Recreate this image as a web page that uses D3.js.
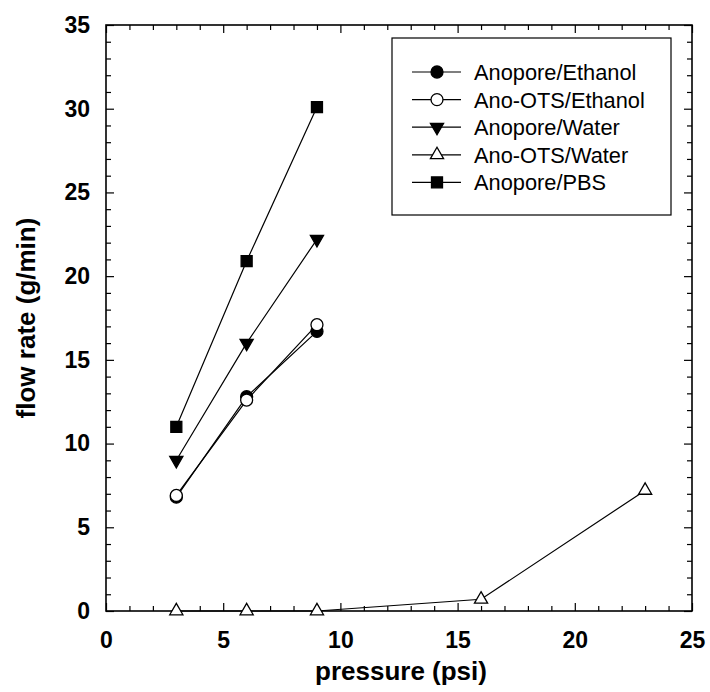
<!DOCTYPE html>
<html>
<head>
<meta charset="utf-8">
<script src="https://cdn.jsdelivr.net/npm/d3@7"></script>
<style>
  body { margin: 0; background: #fff; }
  svg { display: block; }
</style>
</head>
<body>
<svg id="chart" width="710" height="692"></svg>
<script>
// ---- data ----
const seriesNames = ["Anopore/Ethanol", "Ano-OTS/Ethanol", "Anopore/Water", "Ano-OTS/Water", "Anopore/PBS"];
const anoporeEthanolX = [3, 6, 9];
const anoporeEthanolY = [6.8, 12.8, 16.7];
const anoOtsEthanolX = [3, 6, 9];
const anoOtsEthanolY = [6.9, 12.6, 17.1];
const anoporeWaterX = [3, 6, 9];
const anoporeWaterY = [9.0, 16.0, 22.2];
const anoOtsWaterX = [3, 6, 9, 16, 23];
const anoOtsWaterY = [0, 0, 0, 0.7, 7.2];
const anoporePbsX = [3, 6, 9];
const anoporePbsY = [11.0, 20.9, 30.1];
const xMajorTicks = [0, 5, 10, 15, 20, 25];
const yMajorTicks = [0, 5, 10, 15, 20, 25, 30, 35];
const xTitle = "pressure (psi)";
const yTitle = "flow rate (g/min)";

const series = [
  { name: seriesNames[0], xs: anoporeEthanolX, ys: anoporeEthanolY, shape: "circle", fill: "#000" },
  { name: seriesNames[1], xs: anoOtsEthanolX, ys: anoOtsEthanolY, shape: "circle", fill: "#fff" },
  { name: seriesNames[2], xs: anoporeWaterX, ys: anoporeWaterY, shape: "tridown", fill: "#000" },
  { name: seriesNames[3], xs: anoOtsWaterX, ys: anoOtsWaterY, shape: "triup", fill: "#fff" },
  { name: seriesNames[4], xs: anoporePbsX, ys: anoporePbsY, shape: "square", fill: "#000" }
];

// ---- layout ----
const L = 106, R = 692, T = 25, B = 611;
const x = d3.scaleLinear().domain([0, 25]).range([L, R]);
const y = d3.scaleLinear().domain([0, 35]).range([B, T]);
const svg = d3.select("#chart");
const FONT = "Arial, 'Liberation Sans', sans-serif";

const minorX = d3.range(0, 26, 1).filter(v => v % 5 !== 0);
const minorY = d3.range(0, 36, 1).filter(v => v % 5 !== 0);

function styleAxis(g) {
  g.select(".domain").remove();
  g.selectAll(".tick line").attr("stroke", "#000").attr("stroke-width", 1.2);
}

// bottom
svg.append("g").attr("transform", `translate(0,${B})`)
  .call(d3.axisBottom(x).tickValues(xMajorTicks).tickSize(-8).tickPadding(21).tickFormat(d3.format("d")))
  .call(styleAxis)
  .call(g => g.selectAll("text").attr("font-family", FONT).attr("font-weight", "bold").attr("font-size", 23).attr("fill", "#000"));
svg.append("g").attr("transform", `translate(0,${B})`)
  .call(d3.axisBottom(x).tickValues(minorX).tickSize(-5).tickFormat(""))
  .call(styleAxis);
// top
svg.append("g").attr("transform", `translate(0,${T})`)
  .call(d3.axisTop(x).tickValues(xMajorTicks).tickSize(-8).tickFormat(""))
  .call(styleAxis);
svg.append("g").attr("transform", `translate(0,${T})`)
  .call(d3.axisTop(x).tickValues(minorX).tickSize(-5).tickFormat(""))
  .call(styleAxis);
// left
svg.append("g").attr("transform", `translate(${L},0)`)
  .call(d3.axisLeft(y).tickValues(yMajorTicks).tickSize(-8).tickPadding(16).tickFormat(d3.format("d")))
  .call(styleAxis)
  .call(g => g.selectAll("text").attr("font-family", FONT).attr("font-weight", "bold").attr("font-size", 23).attr("fill", "#000"));
svg.append("g").attr("transform", `translate(${L},0)`)
  .call(d3.axisLeft(y).tickValues(minorY).tickSize(-5).tickFormat(""))
  .call(styleAxis);
// right
svg.append("g").attr("transform", `translate(${R},0)`)
  .call(d3.axisRight(y).tickValues(yMajorTicks).tickSize(-8).tickFormat(""))
  .call(styleAxis);
svg.append("g").attr("transform", `translate(${R},0)`)
  .call(d3.axisRight(y).tickValues(minorY).tickSize(-5).tickFormat(""))
  .call(styleAxis);

// frame
svg.append("rect").attr("x", L).attr("y", T).attr("width", R - L).attr("height", B - T)
  .attr("fill", "none").attr("stroke", "#000").attr("stroke-width", 1.6);

// titles
svg.append("text").attr("x", (L + R) / 2 + 2).attr("y", 680).attr("text-anchor", "middle")
  .attr("font-family", FONT).attr("font-weight", "bold").attr("font-size", 26).text(xTitle);
svg.append("text").attr("transform", `translate(35,${(T + B) / 2}) rotate(-90)`).attr("text-anchor", "middle")
  .attr("font-family", FONT).attr("font-weight", "bold").attr("font-size", 26).text(yTitle);

// markers
const sym = {
  circle: d3.symbol().type(d3.symbolCircle).size(Math.PI * 36),
  square: d3.symbol().type(d3.symbolSquare).size(121),
  triup: d3.symbol().type(d3.symbolTriangle).size(75)
};
function marker(g, shape, cx, cy, fill) {
  let p;
  if (shape === "tridown") {
    p = g.append("path").attr("d", sym.triup()).attr("transform", `translate(${cx},${cy}) rotate(180)`);
  } else {
    p = g.append("path").attr("d", sym[shape]()).attr("transform", `translate(${cx},${cy})`);
  }
  p.attr("fill", fill).attr("stroke", "#000").attr("stroke-width", 1.3);
}

const line = d3.line().x(d => x(d[0])).y(d => y(d[1]));
const plot = svg.append("g");
series.forEach(s => {
  const pts = s.xs.map((v, i) => [v, s.ys[i]]);
  plot.append("path").attr("d", line(pts)).attr("fill", "none").attr("stroke", "#000").attr("stroke-width", 1.2);
});
series.forEach(s => {
  s.xs.forEach((v, i) => marker(plot, s.shape, x(v), y(s.ys[i]), s.fill));
});

// legend
const lg = svg.append("g");
lg.append("rect").attr("x", 392).attr("y", 38).attr("width", 279).attr("height", 177)
  .attr("fill", "#fff").attr("stroke", "#000").attr("stroke-width", 1.2);
series.forEach((s, i) => {
  const cy = 72 + i * 27.6;
  lg.append("line").attr("x1", 412).attr("x2", 461).attr("y1", cy).attr("y2", cy)
    .attr("stroke", "#000").attr("stroke-width", 1.2);
  marker(lg, s.shape, 437, cy, s.fill);
  lg.append("text").attr("x", 474).attr("y", cy + 8).attr("font-family", FONT)
    .attr("font-size", 21.8).attr("fill", "#000").text(s.name);
});
</script>
</body>
</html>
